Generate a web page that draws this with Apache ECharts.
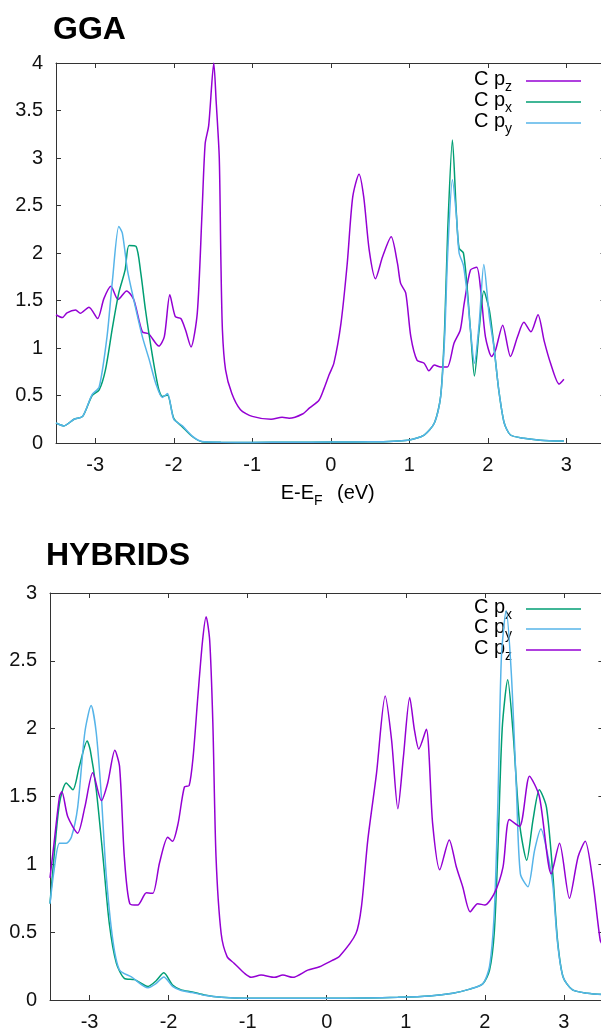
<!DOCTYPE html>
<html>
<head>
<meta charset="utf-8">
<script src="https://cdn.jsdelivr.net/npm/echarts@6/dist/echarts.min.js"></script>
<style>
html,body{margin:0;padding:0;overflow:hidden;background:#fff;}
#chart{width:610px;height:1032px;}
</style>
</head>
<body>
<div id="chart"></div>
<script>
// ---------- DATA ----------
const xTicks = [-3, -2, -1, 0, 1, 2, 3];
const ggaYTicksMax = 4;
const hybYTicksMax = 3;

// GGA panel  [E - E_F (eV), PDOS]
const ggaPz = [[-3.5,1.35],[-3.42,1.32],[-3.36,1.37],[-3.25,1.40],[-3.19,1.365],[-3.08,1.43],[-2.97,1.31],[-2.89,1.52],[-2.80,1.65],[-2.71,1.51],[-2.60,1.60],[-2.51,1.51],[-2.40,1.17],[-2.32,1.15],[-2.19,1.02],[-2.12,1.12],[-2.05,1.56],[-1.98,1.33],[-1.91,1.31],[-1.85,1.19],[-1.78,1.01],[-1.70,1.37],[-1.64,2.42],[-1.60,3.15],[-1.555,3.34],[-1.49,4.0],[-1.46,3.6],[-1.42,3.0],[-1.40,1.95],[-1.38,1.19],[-1.34,0.77],[-1.26,0.52],[-1.15,0.35],[-1.0,0.28],[-0.76,0.25],[-0.62,0.27],[-0.53,0.26],[-0.36,0.305],[-0.27,0.37],[-0.15,0.45],[-0.085,0.575],[-0.02,0.72],[0.04,0.84],[0.13,1.26],[0.21,1.89],[0.28,2.59],[0.36,2.83],[0.42,2.59],[0.49,2.03],[0.57,1.73],[0.66,1.96],[0.77,2.17],[0.85,1.89],[0.89,1.68],[0.955,1.58],[1.02,1.12],[1.10,0.87],[1.19,0.84],[1.25,0.76],[1.32,0.82],[1.40,0.80],[1.485,0.80],[1.57,1.05],[1.65,1.19],[1.70,1.47],[1.78,1.82],[1.86,1.85],[1.91,1.61],[1.97,1.12],[2.05,0.91],[2.10,0.98],[2.19,1.24],[2.29,0.91],[2.38,1.12],[2.46,1.27],[2.55,1.17],[2.64,1.35],[2.72,1.07],[2.80,0.84],[2.91,0.62],[2.97,0.67]];
const ggaPx = [[-3.5,0.21],[-3.40,0.18],[-3.27,0.25],[-3.16,0.28],[-3.04,0.50],[-2.95,0.56],[-2.87,0.77],[-2.78,1.22],[-2.70,1.58],[-2.62,1.82],[-2.57,2.08],[-2.48,2.07],[-2.42,1.79],[-2.36,1.40],[-2.27,0.91],[-2.19,0.56],[-2.145,0.49],[-2.08,0.505],[-2.0,0.26],[-1.89,0.17],[-1.76,0.066],[-1.64,0.014],[-1.4,0.008],[-1.0,0.006],[-0.5,0.008],[0,0.01],[0.5,0.012],[0.98,0.03],[1.19,0.084],[1.32,0.21],[1.40,0.49],[1.45,1.19],[1.49,2.24],[1.55,3.19],[1.60,2.42],[1.635,2.05],[1.69,2.0],[1.74,1.61],[1.78,1.19],[1.83,0.705],[1.89,1.19],[1.95,1.60],[2.02,1.40],[2.08,1.01],[2.14,0.56],[2.21,0.21],[2.29,0.084],[2.46,0.05],[2.67,0.03],[2.97,0.02]];
const ggaPy = [[-3.5,0.21],[-3.40,0.18],[-3.27,0.25],[-3.16,0.28],[-3.04,0.51],[-2.95,0.59],[-2.85,1.12],[-2.78,1.72],[-2.70,2.28],[-2.655,2.21],[-2.59,1.82],[-2.51,1.51],[-2.40,1.12],[-2.31,0.87],[-2.23,0.63],[-2.145,0.48],[-2.08,0.52],[-2.0,0.25],[-1.89,0.18],[-1.76,0.07],[-1.64,0.015],[-1.4,0.008],[-1.0,0.006],[-0.5,0.008],[0,0.01],[0.5,0.012],[0.98,0.03],[1.19,0.084],[1.32,0.21],[1.40,0.49],[1.45,1.10],[1.49,2.0],[1.55,2.77],[1.60,2.40],[1.635,2.0],[1.69,1.87],[1.74,1.55],[1.78,1.19],[1.83,0.84],[1.89,1.25],[1.95,1.88],[2.02,1.33],[2.08,1.0],[2.14,0.56],[2.21,0.21],[2.29,0.084],[2.46,0.05],[2.67,0.03],[2.97,0.02]];

// HYBRIDS panel
const hybPx = [[-3.5,0.71],[-3.45,1.05],[-3.38,1.45],[-3.295,1.60],[-3.21,1.55],[-3.13,1.72],[-3.03,1.91],[-2.99,1.84],[-2.915,1.55],[-2.83,1.056],[-2.75,0.565],[-2.66,0.27],[-2.56,0.16],[-2.43,0.15],[-2.26,0.10],[-2.16,0.14],[-2.06,0.20],[-1.95,0.11],[-1.84,0.074],[-1.7,0.06],[-1.545,0.037],[-1.33,0.02],[-1.0,0.012],[0,0.012],[0.5,0.015],[0.9,0.02],[1.30,0.03],[1.595,0.05],[1.81,0.08],[1.975,0.12],[2.06,0.22],[2.12,0.5],[2.165,1.1],[2.22,2.0],[2.29,2.36],[2.355,1.99],[2.44,1.30],[2.53,1.03],[2.61,1.33],[2.69,1.55],[2.78,1.42],[2.86,0.93],[2.92,0.44],[2.99,0.17],[3.11,0.074],[3.3,0.05],[3.5,0.04]];
const hybPy = [[-3.5,0.71],[-3.45,0.95],[-3.38,1.155],[-3.295,1.155],[-3.23,1.20],[-3.15,1.42],[-3.06,1.97],[-2.98,2.17],[-2.915,1.97],[-2.85,1.50],[-2.79,0.93],[-2.705,0.44],[-2.62,0.22],[-2.47,0.17],[-2.26,0.09],[-2.16,0.12],[-2.06,0.17],[-1.95,0.10],[-1.84,0.07],[-1.7,0.055],[-1.545,0.035],[-1.33,0.02],[-1.0,0.012],[0,0.012],[0.5,0.015],[0.9,0.02],[1.30,0.03],[1.595,0.05],[1.81,0.08],[1.975,0.12],[2.06,0.25],[2.12,0.65],[2.165,1.45],[2.21,2.53],[2.27,2.87],[2.335,2.41],[2.40,1.55],[2.45,0.93],[2.545,0.835],[2.63,1.105],[2.71,1.26],[2.80,1.056],[2.86,0.85],[2.92,0.42],[2.99,0.17],[3.11,0.074],[3.3,0.05],[3.5,0.04]];
const hybPz = [[-3.5,0.9],[-3.45,1.15],[-3.38,1.50],[-3.35,1.535],[-3.275,1.35],[-3.15,1.23],[-3.06,1.42],[-2.96,1.675],[-2.85,1.47],[-2.77,1.60],[-2.68,1.84],[-2.62,1.72],[-2.56,1.056],[-2.49,0.71],[-2.39,0.70],[-2.28,0.79],[-2.20,0.786],[-2.115,1.01],[-2.01,1.20],[-1.95,1.17],[-1.88,1.30],[-1.80,1.57],[-1.74,1.58],[-1.69,1.79],[-1.63,2.235],[-1.57,2.65],[-1.525,2.825],[-1.48,2.65],[-1.44,2.04],[-1.40,1.056],[-1.335,0.49],[-1.26,0.32],[-1.17,0.27],[-1.04,0.197],[-0.955,0.167],[-0.83,0.184],[-0.66,0.167],[-0.555,0.184],[-0.43,0.167],[-0.24,0.22],[-0.09,0.245],[0.08,0.295],[0.16,0.32],[0.37,0.49],[0.44,0.69],[0.52,1.18],[0.63,1.67],[0.74,2.24],[0.82,1.92],[0.90,1.41],[0.97,1.79],[1.05,2.23],[1.11,1.99],[1.165,1.85],[1.26,1.995],[1.34,1.30],[1.43,0.96],[1.55,1.18],[1.64,0.98],[1.72,0.835],[1.815,0.65],[1.91,0.71],[2.0,0.70],[2.12,0.786],[2.23,0.98],[2.31,1.33],[2.44,1.28],[2.565,1.65],[2.69,1.50],[2.84,0.93],[2.945,1.155],[3.07,0.75],[3.18,1.056],[3.27,1.17],[3.37,0.86],[3.46,0.44],[3.5,0.4]];

// ---------- STYLE ----------
const FONT = "'Liberation Sans', Arial, Helvetica, sans-serif";
const C_Z = '#9400D3', C_X = '#009E73', C_Y = '#56B4E9';
const AX = '#333';

function xAxisCfg(grid, pos, labels) {
  return {
    type: 'value', gridIndex: grid, position: pos, min: -3.5, max: 3.5,
    axisLine: { show: true, onZero: false, lineStyle: { color: AX, width: 1 } },
    axisTick: { show: true, inside: true, length: 5, customValues: xTicks, lineStyle: { color: AX } },
    axisLabel: { show: labels, customValues: xTicks, margin: 12, fontSize: 20, color: '#111', fontFamily: FONT },
    splitLine: { show: false }
  };
}
function yAxisCfg(grid, pos, max, labels, margin) {
  return {
    type: 'value', gridIndex: grid, position: pos, min: 0, max: max, interval: 0.5,
    axisLine: { show: true, onZero: false, lineStyle: { color: AX, width: 1 } },
    axisTick: { show: true, inside: true, length: 5, lineStyle: { color: AX } },
    axisLabel: { show: labels, margin: margin, fontSize: 20, color: '#111', fontFamily: FONT },
    splitLine: { show: false }
  };
}
function line(name, data, color, xi, yi) {
  return { name, type: 'line', data, xAxisIndex: xi, yAxisIndex: yi, showSymbol: false, symbol: 'none',
    smooth: 0.25, lineStyle: { color, width: 1.5 }, itemStyle: { color }, animation: false, clip: true };
}
function txt(text, x, y, size, align, bold) {
  return { type: 'text', style: { text, x, y, font: (bold ? 'bold ' : '') + size + 'px ' + FONT,
    fill: '#000', align: align || 'left', verticalAlign: 'middle' } };
}
function legendRow(sub, y, color) {
  return [
    txt('C p', 505, y - 2, 20, 'right'),
    txt(sub, 505, y + 6, 14, 'left'),
    { type: 'line', shape: { x1: 526, y1: y, x2: 581, y2: y }, style: { stroke: color, lineWidth: 1.5 } }
  ];
}

const chart = echarts.init(document.getElementById('chart'), null, { renderer: 'canvas' });
chart.setOption({
  animation: false,
  backgroundColor: '#fff',
  grid: [
    { left: 56, top: 63, width: 549.5, height: 380 },
    { left: 50, top: 593, width: 553.4, height: 407 }
  ],
  xAxis: [ xAxisCfg(0, 'bottom', true), xAxisCfg(0, 'top', false), xAxisCfg(1, 'bottom', true), xAxisCfg(1, 'top', false) ],
  yAxis: [ yAxisCfg(0, 'left', ggaYTicksMax, true, 13), yAxisCfg(0, 'right', ggaYTicksMax, false, 8),
           yAxisCfg(1, 'left', hybYTicksMax, true, 13), yAxisCfg(1, 'right', hybYTicksMax, false, 8) ],
  series: [
    line('C pz', ggaPz, C_Z, 0, 0),
    line('C px', ggaPx, C_X, 0, 0),
    line('C py', ggaPy, C_Y, 0, 0),
    line('C px', hybPx, C_X, 2, 2),
    line('C py', hybPy, C_Y, 2, 2),
    line('C pz', hybPz, C_Z, 2, 2)
  ],
  graphic: [
    txt('GGA', 53, 30, 32, 'left', true),
    txt('HYBRIDS', 46, 556, 32, 'left', true),
    txt('E-E', 314, 493, 20, 'right'),
    txt('F', 314, 501, 14, 'left'),
    txt('(eV)', 337, 493, 20, 'left'),
    ...legendRow('z', 81, C_Z),
    ...legendRow('x', 102, C_X),
    ...legendRow('y', 123, C_Y),
    ...legendRow('x', 609, C_X),
    ...legendRow('y', 629, C_Y),
    ...legendRow('z', 650, C_Z)
  ]
});
</script>
</body>
</html>
